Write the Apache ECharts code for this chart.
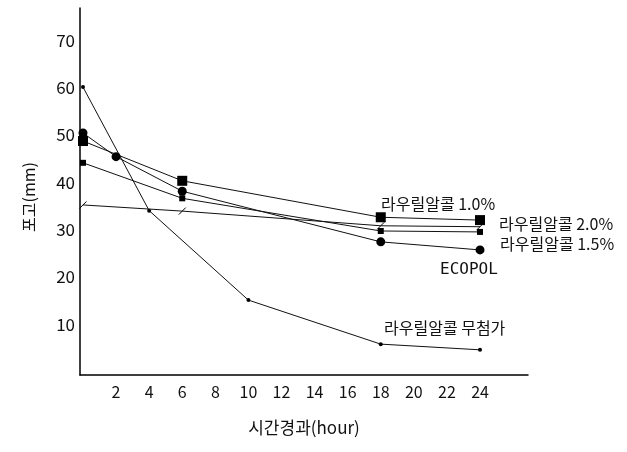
<!DOCTYPE html>
<html><head><meta charset="utf-8">
<script src="https://cdn.jsdelivr.net/npm/echarts@6/dist/echarts.min.js"></script>
<style>html,body{margin:0;padding:0;background:#fff}#c{width:627px;height:452px}</style>
</head><body><div id="c"></div><script>
// Data (hours -> 포고 mm)
const xTickLabels = [2, 4, 6, 8, 10, 12, 14, 16, 18, 20, 22, 24];
const yTickLabels = [10, 20, 30, 40, 50, 60, 70];

const lau10Hours = [0, 6, 18, 24];
const lau10Values = [48.7, 40.3, 32.6, 32.0];

const lau20Hours = [0, 6, 18, 24];
const lau20Values = [44.1, 36.6, 29.7, 29.5];

const lau15Hours = [0, 2, 6, 18, 24];
const lau15Values = [50.4, 45.4, 38.1, 27.4, 25.7];

const ecopolHours = [0, 6, 18, 24];
const ecopolValues = [35.2, 33.9, 30.8, 30.6];

const noneHours = [0, 4, 10, 18, 24];
const noneValues = [60.1, 34.0, 15.1, 5.8, 4.6];

const seriesNames = ['라우릴알콜 1.0%', '라우릴알콜 2.0%', '라우릴알콜 1.5%', 'ECOPOL', '라우릴알콜 무첨가'];
const xAxisTitle = '시간경과(hour)';
const yAxisTitle = '포고(mm)';

function pairs(h, v) { return h.map((x, i) => [x, v[i]]); }

const CJK = '"Noto Sans CJK KR", "Noto Sans", sans-serif';
const lineStyle = { color: '#111', width: 1 };
const slash = 'path://M0,10 L10,0';

function mk(name, data, symbol, size, extra) {
  return Object.assign({
    name: name, type: 'line', data: data, symbol: symbol, symbolSize: size,
    showSymbol: true, lineStyle: lineStyle, silent: true, animation: false,
    itemStyle: { color: '#000', borderColor: '#000', borderWidth: 0 }
  }, extra || {});
}

const chart = echarts.init(document.getElementById('c'), null, { renderer: 'canvas' });
chart.setOption({
  backgroundColor: '#fff',
  animation: false,
  grid: { left: 80, right: 99, top: 8, bottom: 77, containLabel: false },
  xAxis: {
    type: 'value', min: -0.18, max: 26.9,
    name: xAxisTitle, nameLocation: 'middle', nameGap: 44,
    nameTextStyle: { fontFamily: CJK, fontSize: 17, color: '#111' },
    axisLine: { show: true, onZero: false, lineStyle: { color: '#000', width: 1.5 } },
    axisTick: { show: false },
    splitLine: { show: false },
    axisLabel: { customValues: xTickLabels, fontFamily: CJK, fontSize: 16, color: '#111', margin: 9 }
  },
  yAxis: {
    type: 'value', min: -0.72, max: 76.8,
    axisLine: { show: true, onZero: false, lineStyle: { color: '#000', width: 1.5 } },
    axisTick: { show: false },
    splitLine: { show: false },
    axisLabel: { customValues: yTickLabels, fontFamily: CJK, fontSize: 17, color: '#111', margin: 5 }
  },
  series: [
    mk(seriesNames[0], pairs(lau10Hours, lau10Values), 'rect', 10),
    mk(seriesNames[1], pairs(lau20Hours, lau20Values), 'rect', 6),
    mk(seriesNames[2], pairs(lau15Hours, lau15Values), 'circle', 9),
    mk(seriesNames[3], pairs(ecopolHours, ecopolValues), slash, 7,
       { itemStyle: { color: 'none', borderColor: '#000', borderWidth: 1 } }),
    mk(seriesNames[4], pairs(noneHours, noneValues), 'circle', 4)
  ],
  graphic: [
    { type: 'text', x: 29, y: 197, rotation: Math.PI / 2,
      style: { text: yAxisTitle, font: '16px ' + CJK, fill: '#111', align: 'center', verticalAlign: 'middle' } },
    { type: 'text', left: 381, top: 196, style: { text: seriesNames[0], font: '16px ' + CJK, fill: '#111' } },
    { type: 'text', left: 499, top: 216, style: { text: seriesNames[1], font: '16px ' + CJK, fill: '#111' } },
    { type: 'text', left: 500, top: 236, style: { text: seriesNames[2], font: '16px ' + CJK, fill: '#111' } },
    { type: 'text', left: 440, top: 262, style: { text: seriesNames[3], font: '16px "DejaVu Sans Mono", monospace', fill: '#111' } },
    { type: 'text', left: 384, top: 320, style: { text: seriesNames[4], font: '16px ' + CJK, fill: '#111' } }
  ]
});
</script></body></html>
